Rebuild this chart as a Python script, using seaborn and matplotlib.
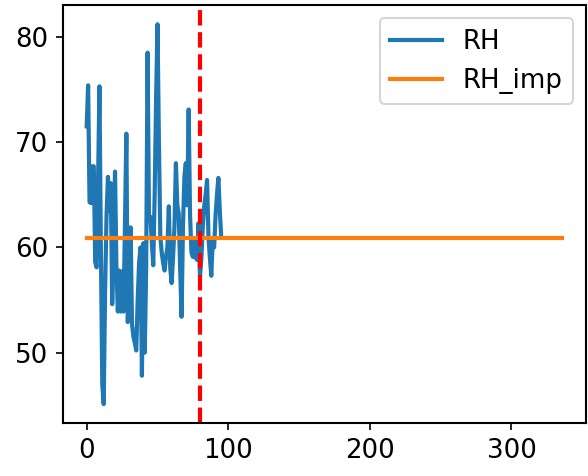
import numpy as np
import pandas as pd
import seaborn as sns
import matplotlib
matplotlib.use("Agg")
import matplotlib.pyplot as plt

# Relative humidity readings (one per index 0..95)
rh_values = [
    71.5, 75.4, 64.3, 64.2, 67.7, 67.7, 58.6, 58.1, 66.0, 75.3,
    60.0, 47.0, 45.1, 56.0, 63.0, 66.7, 63.5, 66.1, 54.6, 60.0,
    67.2, 58.0, 53.9, 57.8, 53.9, 57.7, 53.9, 62.0, 70.8, 52.9,
    56.0, 61.9, 52.7, 51.5, 50.9, 50.2, 55.0, 58.5, 60.0, 47.8,
    60.4, 50.0, 58.0, 78.5, 62.6, 62.9, 60.5, 58.3, 65.0, 74.0,
    81.2, 70.0, 61.0, 59.5, 58.5, 57.8, 59.1, 60.0, 63.9, 58.0,
    56.6, 59.1, 62.0, 68.0, 64.0, 63.2, 58.0, 53.4, 62.0, 66.7,
    68.0, 64.0, 73.1, 63.0, 59.5, 59.1, 60.7, 59.0, 58.8, 62.3,
    57.2, 59.0, 62.0, 63.9, 65.0, 66.4, 61.0, 59.0, 57.3, 60.7,
    60.0, 63.0, 65.0, 66.6, 63.5, 61.0,
]
# imputed series: flat value over the full 0..336 range
rh_imp_value = 60.9
rh_imp_length = 337
split_x = 80

rh = pd.DataFrame({"idx": np.arange(len(rh_values)), "RH": rh_values})
rh_imp = pd.DataFrame({"idx": np.arange(rh_imp_length),
                       "RH_imp": [rh_imp_value] * rh_imp_length})

plt.rcParams["font.size"] = 12.5

fig = plt.figure(figsize=(5.88 / 1.5, 4.76 / 1.5), dpi=150)
ax = fig.add_axes([0.107, 0.111, 0.890, 0.878])

sns.lineplot(data=rh, x="idx", y="RH", ax=ax, label="RH", color="C0", linewidth=2.0)
sns.lineplot(data=rh_imp, x="idx", y="RH_imp", ax=ax, label="RH_imp", color="C1", linewidth=2.0)
ax.axvline(split_x, color="red", linestyle="--", linewidth=2.0)

ax.set_xlabel("")
ax.set_ylabel("")
ax.set_xticks([0, 100, 200, 300])
ax.set_yticks([50, 60, 70, 80])
for side in ax.spines.values():
    side.set_linewidth(1.0)
ax.legend(loc="upper right")

fig.savefig("out.png", dpi=150)
